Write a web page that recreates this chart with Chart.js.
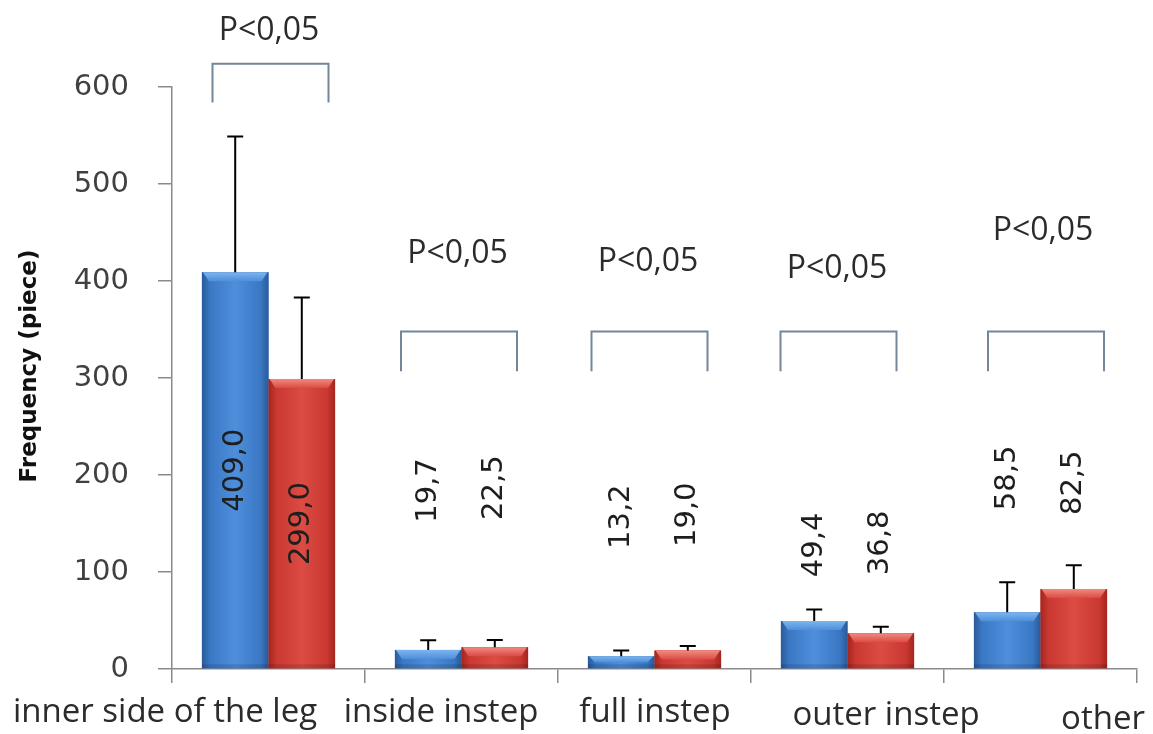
<!DOCTYPE html>
<html><head><meta charset="utf-8">
<script src="https://cdn.jsdelivr.net/npm/chart.js@4.4.1/dist/chart.umd.min.js"></script>
<style>html,body{margin:0;padding:0;background:#fff;} #wrap{width:1153px;height:734px;}</style>
</head><body><div id="wrap"><canvas id="c" width="1153" height="734"></canvas></div>
<script>
// ---------- data ----------
const categories = ['inner side of the leg', 'inside instep', 'full instep', 'outer instep', 'other'];
const seriesBlue = [409.0, 19.7, 13.2, 49.4, 58.5];
const seriesRed  = [299.0, 22.5, 19.0, 36.8, 82.5];
const errBlue = [140, 10, 6, 12, 31];
const errRed  = [84, 7.5, 4.7, 6.8, 24.5];
const valueLabelsBlue = ['409,0', '19,7', '13,2', '49,4', '58,5'];
const valueLabelsRed  = ['299,0', '22,5', '19,0', '36,8', '82,5'];
const pLabels = ['P<0,05', 'P<0,05', 'P<0,05', 'P<0,05', 'P<0,05'];
const yTicks = [0, 100, 200, 300, 400, 500, 600];
const yTitle = 'Frequency (piece)';

// ---------- annotation layout (value-axis units / pixel offsets) ----------
const LAYOUT = {
  valueLabelAtBlue: [null, 184, 157, 128, 197],
  valueLabelAtRed:  [null, 187, 159, 130, 192],
  bracketTop: [624, 348, 348, 348, 348],
  bracketLeg: [584, 307, 307, 307, 307],
  bracketDx: [2, -2.5, -5, -9, 5.5],
  bracketHalf: 58,
  pLabelAt: [660, 430, 421.6, 414.4, 453.6],
  pLabelDx: [0.5, -4, -6.5, -10.5, 2.5],
  catLabelDx: [-103.5, -20.5, 0.5, 38.5, 62.5],
  catLabelBaseline: [722, 722, 722, 725, 729]
};

const STYLE = {
  blue: {dark: '#2a5a98', base: '#3a78c4', light: '#4e8edb', top: '#7db5ee'},
  red:  {dark: '#a4261f', base: '#c93831', light: '#dc4c43', top: '#f08a80'},
  axis: '#8a8a8a',
  text: '#2b2b2b',
  bracket: '#73869a'
};

const decor = {
  id: 'decor',
  afterDatasetsDraw(chart) {
    const c = chart.ctx;
    const ys = chart.scales.y;
    const sets = [
      {st: STYLE.blue, err: errBlue, vals: seriesBlue, labs: valueLabelsBlue, at: LAYOUT.valueLabelAtBlue},
      {st: STYLE.red,  err: errRed,  vals: seriesRed,  labs: valueLabelsRed,  at: LAYOUT.valueLabelAtRed}
    ];
    sets.forEach((s, di) => {
      const meta = chart.getDatasetMeta(di);
      meta.data.forEach((el) => {
        const p = el.getProps(['x', 'y', 'base', 'width'], true);
        const l = p.x - p.width / 2, r = p.x + p.width / 2, t = p.y, b = p.base;
        const g = c.createLinearGradient(l, 0, r, 0);
        g.addColorStop(0, s.st.dark);
        g.addColorStop(0.12, s.st.base);
        g.addColorStop(0.5, s.st.light);
        g.addColorStop(0.88, s.st.base);
        g.addColorStop(1, s.st.dark);
        c.save();
        c.fillStyle = g;
        c.fillRect(l, t, r - l, b - t);
        const bh = Math.min(9, (b - t) / 2);
        const gt = c.createLinearGradient(0, t, 0, t + bh);
        gt.addColorStop(0, s.st.top);
        gt.addColorStop(1, s.st.light);
        c.fillStyle = gt;
        c.beginPath();
        c.moveTo(l + 1, t); c.lineTo(r - 1, t); c.lineTo(r - 7, t + bh); c.lineTo(l + 7, t + bh);
        c.closePath(); c.fill();
        c.fillStyle = 'rgba(0,0,0,0.12)';
        c.fillRect(l, b - 4, r - l, 4);
        c.restore();
      });
    });
    sets.forEach((s, di) => {
      const meta = chart.getDatasetMeta(di);
      meta.data.forEach((el, i) => {
        const p = el.getProps(['x', 'y'], true);
        const ye = ys.getPixelForValue(s.vals[i] + s.err[i]);
        c.save();
        c.strokeStyle = '#000';
        c.lineWidth = 2;
        c.beginPath();
        c.moveTo(p.x, p.y); c.lineTo(p.x, ye);
        c.moveTo(p.x - 8, ye); c.lineTo(p.x + 8, ye);
        c.stroke();
        c.restore();
      });
    });
    sets.forEach((s, di) => {
      const meta = chart.getDatasetMeta(di);
      meta.data.forEach((el, i) => {
        const p = el.getProps(['x', 'y', 'base'], true);
        const yc = s.at[i] == null ? (p.y + p.base) / 2 : ys.getPixelForValue(s.at[i]);
        c.save();
        c.translate(p.x, yc);
        c.rotate(-Math.PI / 2);
        c.font = '29px "DejaVu Sans"';
        c.fillStyle = '#1e1e1e';
        c.textAlign = 'center';
        c.textBaseline = 'middle';
        c.fillText(s.labs[i], 0, 0);
        c.restore();
      });
    });
  },
  afterDraw(chart) {
    const c = chart.ctx;
    const xs = chart.scales.x, ys = chart.scales.y;
    categories.forEach((cat, i) => {
      const cx = xs.getPixelForValue(i);
      const bx = cx + LAYOUT.bracketDx[i];
      const yt = ys.getPixelForValue(LAYOUT.bracketTop[i]);
      const yl = ys.getPixelForValue(LAYOUT.bracketLeg[i]);
      c.save();
      c.strokeStyle = STYLE.bracket;
      c.lineWidth = 2;
      c.beginPath();
      c.moveTo(bx - LAYOUT.bracketHalf, yl);
      c.lineTo(bx - LAYOUT.bracketHalf, yt);
      c.lineTo(bx + LAYOUT.bracketHalf, yt);
      c.lineTo(bx + LAYOUT.bracketHalf, yl);
      c.stroke();
      c.font = '32px "Open Sans"';
      c.fillStyle = STYLE.text;
      c.textAlign = 'center';
      c.textBaseline = 'alphabetic';
      c.fillText(pLabels[i], cx + LAYOUT.pLabelDx[i], ys.getPixelForValue(LAYOUT.pLabelAt[i]) + 11.4);
      c.font = '33px "Open Sans"';
      c.fillText(cat, cx + LAYOUT.catLabelDx[i], LAYOUT.catLabelBaseline[i]);
      c.restore();
    });
    c.save();
    c.translate(30, 366);
    c.rotate(-Math.PI / 2);
    c.font = 'bold 23px "DejaVu Sans"';
    c.fillStyle = '#111';
    c.textAlign = 'center';
    c.textBaseline = 'middle';
    c.fillText(yTitle, 0, 0);
    c.restore();
  }
};

new Chart(document.getElementById('c'), {
  type: 'bar',
  data: {
    labels: categories,
    datasets: [
      {label: 'Group 1', data: seriesBlue, backgroundColor: STYLE.blue.base, borderWidth: 0, categoryPercentage: 0.69, barPercentage: 1},
      {label: 'Group 2', data: seriesRed, backgroundColor: STYLE.red.base, borderWidth: 0, categoryPercentage: 0.69, barPercentage: 1}
    ]
  },
  options: {
    responsive: false,
    animation: false,
    devicePixelRatio: 1,
    layout: {padding: {left: 0, right: 16, top: 87, bottom: 0}},
    plugins: {legend: {display: false}, tooltip: {enabled: false}, title: {display: false}},
    scales: {
      x: {
        grid: {offset: true, drawOnChartArea: false, drawTicks: true, tickLength: 14, color: STYLE.axis, lineWidth: 1.5},
        border: {display: true, color: STYLE.axis, width: 1.5},
        ticks: {display: false},
        afterFit(s) { s.height = 65; }
      },
      y: {
        min: 0, max: 600,
        afterBuildTicks(s) { s.ticks = yTicks.map(v => ({value: v})); },
        ticks: {font: {family: 'DejaVu Sans', size: 29}, color: '#404040', padding: 29},
        grid: {drawOnChartArea: false, drawTicks: true, tickLength: 14, color: STYLE.axis, lineWidth: 1.5},
        border: {display: true, color: STYLE.axis, width: 1.5},
        afterFit(s) { s.width = 172; }
      }
    }
  },
  plugins: [decor]
});
</script>
</body></html>
